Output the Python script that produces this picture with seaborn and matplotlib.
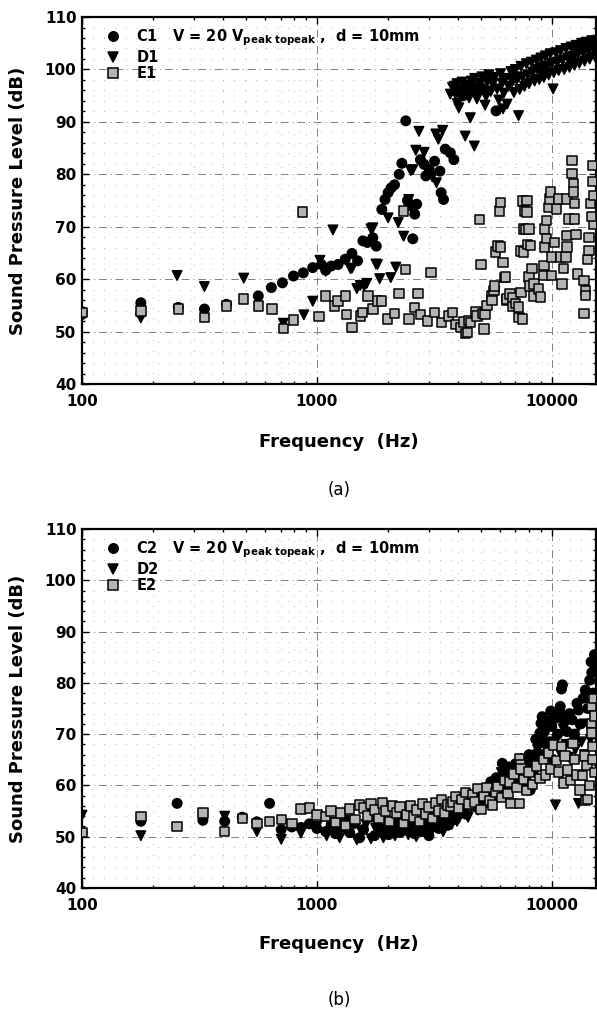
import pandas as pd
import seaborn as sns
import matplotlib.pyplot as plt
import matplotlib.ticker as mticker

# ---- panel (a) data ----
c1_freq = [100, 100, 178, 178, 257, 332, 412, 563, 640, 713, 795, 875, 960, 1045, 1090, 1150,
           1230, 1320, 1410, 1490, 1570, 1640, 1730, 1790, 1890, 1950, 2010, 2070, 2140, 2240,
           2300, 2390, 2430, 2470, 2560, 2610, 2660, 2760, 2860, 2910, 3010, 3170, 3340, 3380,
           3460, 3520, 3700, 3830, 5790, 4200, 5000, 7000, 9000, 12000, 13000, 14600, 15200]
c1_spl = [53.3, 53.8, 55.5, 53.5, 54.6, 54.3, 55.2, 56.8, 58.4, 59.3, 60.6, 61.2, 62.2, 62.8, 61.7, 62.5,
          62.8, 63.8, 64.9, 63.5, 67.3, 67.0, 67.9, 66.3, 73.3, 75.2, 76.5, 77.4, 78.0, 80.0,
          82.1, 90.2, 75.0, 74.0, 67.7, 72.4, 74.3, 82.8, 81.9, 79.7, 80.9, 82.5, 80.6, 76.5,
          75.2, 84.8, 84.1, 82.8, 92.1, 95.0, 96.5, 98.5, 100.5, 102.5, 103.8, 104.5, 105.6]

d1_freq = [100, 178, 254, 332, 488, 720, 880, 960, 1030, 1090, 1170, 1390, 1410, 1480, 1530, 1590,
           1630, 1700, 1730, 1785, 1810, 1850, 2010, 2063, 2168, 2220, 2340, 2460, 2509, 2560,
           2637, 2720, 2860, 3100, 3230, 3208, 3290, 3430, 3700, 3780, 3960, 4020, 4280, 4500,
           4680, 4800, 5200, 6200, 7220, 10130,
           3850, 3900, 3950, 4050, 4100, 4150, 4250, 4300, 4400, 4450, 4550, 4600, 4700, 4750,
           4850, 4950, 5050, 5150, 5250, 5300, 5400, 5500, 5600, 5700, 5850, 5950, 6050, 6150,
           6250, 6350, 6450, 6550, 6700, 6800, 6900, 7000, 7100, 7300, 7400, 7500, 7650, 7800,
           7900, 8000, 8200, 8300, 8450, 8600, 8700, 8850, 9000, 9100, 9250, 9400, 9550, 9700,
           9850, 10000, 10200, 10400, 10550, 10700, 10900, 11100, 11300, 11500, 11700, 11900,
           12100, 12300, 12500, 12700, 12900, 13100, 13400, 13600, 13800, 14000, 14300, 14500,
           14800, 15100, 15300]
d1_spl = [53.0, 52.6, 60.7, 58.6, 60.2, 51.6, 53.2, 55.8, 63.6, 61.5, 69.4, 62.0, 62.1, 58.2, 58.8, 58.7,
          59.2, 69.6, 69.8, 62.9, 62.8, 60.1, 71.7, 60.3, 62.3, 70.8, 68.2, 75.2, 80.7, 80.9,
          84.6, 88.2, 84.2, 79.5, 78.4, 87.7, 86.7, 88.4, 95.3, 96.6, 93.5, 92.7, 87.3, 90.8,
          85.4, 94.4, 93.2, 92.5, 91.2, 96.3,
          96.8, 95.2, 97.3, 96.0, 94.8, 97.6, 95.6, 97.0, 96.2, 94.6, 97.8, 95.9, 98.3, 96.5,
          95.0, 97.4, 98.6, 96.0, 94.9, 97.7, 99.0, 95.8, 97.2, 98.5, 96.3, 94.2, 99.2, 97.4,
          95.5, 98.3, 93.4, 96.8, 99.6, 97.7, 95.6, 100.0, 98.1, 96.2, 100.6, 98.6, 96.8, 101.1,
          99.0, 97.3, 101.4, 99.5, 97.8, 101.8, 100.0, 98.1, 102.2, 100.2, 98.5, 102.6, 100.7, 99.0,
          103.0, 101.2, 99.4, 103.2, 101.4, 99.8, 103.6, 101.8, 100.0, 104.0, 102.2, 100.4,
          104.3, 102.5, 100.8, 104.6, 103.0, 101.2, 105.0, 103.3, 101.6, 105.2, 103.6, 102.0,
          105.5, 104.0, 102.4]

e1_freq = [100, 178, 257, 332, 412, 488, 563, 645, 720, 795, 870, 1020, 1090, 1190, 1230, 1320,
           1340, 1410, 1530, 1560, 1650, 1730, 1810, 1880, 2000, 2140, 2240, 2340, 2390, 2470,
           2610, 2690, 2760, 2950, 3060, 3170, 3400, 3640, 3780, 3900, 4100, 4200, 4290, 4370,
           4450, 4520, 4760, 4800, 4930, 4990, 5100, 5150, 5200, 5300, 5530, 5560, 5670, 5700,
           5760, 5900, 6000, 6050, 6060, 6200, 6300, 6370, 6400, 6450, 6650, 6830, 6850, 7000,
           7220, 7240, 7400, 7400, 7500, 7550, 7600, 7600, 7650, 7750, 7840, 7840, 7880, 8000,
           8000, 8050, 8100, 8250, 8350, 8400, 8800, 8930, 9250, 9250, 9300, 9300, 9500, 9500,
           9730, 9800, 9870, 10000, 10000, 10300, 10500, 10670, 10870, 11070, 11200, 11500,
           11600, 11600, 11600, 11770, 12200, 12200, 12340, 12340, 12500, 12500, 12700, 12900,
           13700, 13700, 13900, 13900, 14200, 14400, 14400, 14600, 14900, 15000, 15100, 15100,
           14800]
e1_spl = [53.6, 53.9, 54.3, 52.7, 54.9, 56.2, 54.9, 54.3, 50.6, 52.2, 72.8, 52.9, 56.8, 54.9, 55.8, 56.8,
          53.3, 50.8, 53.0, 53.6, 56.8, 54.3, 55.8, 55.8, 52.4, 53.5, 57.3, 73.0, 61.8, 52.4,
          54.6, 57.3, 53.3, 52.0, 61.3, 53.6, 51.7, 53.0, 53.6, 51.4, 50.8, 51.8, 49.6, 49.8,
          52.1, 51.7, 53.7, 53.0, 71.4, 62.8, 53.4, 50.5, 53.3, 55.0, 56.8, 55.9, 57.8, 58.7,
          65.2, 66.3, 73.0, 74.6, 66.1, 63.2, 60.3, 60.4, 56.0, 56.2, 57.2, 54.9, 56.5, 55.4,
          54.7, 52.7, 57.4, 65.4, 52.4, 74.9, 69.6, 65.2, 73.0, 69.5, 75.0, 72.8, 66.6, 60.4,
          69.6, 58.7, 66.4, 62.0, 56.8, 59.1, 58.1, 56.6, 62.6, 60.7, 69.6, 66.1, 71.2, 67.7,
          73.7, 75.3, 76.6, 64.2, 60.7, 67.0, 73.4, 75.3, 64.2, 59.1, 62.0, 64.2,
          75.3, 68.3, 66.1, 71.5, 82.6, 80.1, 78.2, 76.6, 74.4, 71.5, 68.5, 61.0,
          59.7, 53.4, 57.8, 56.9, 63.8, 65.5, 68.0, 74.4, 81.7, 78.6, 70.5, 76.0,
          72.0]

# ---- panel (b) data ----
c2_freq = [100, 178, 254, 327, 405, 481, 555, 629, 705, 782, 855, 929, 1000, 1090,
           1150, 1200, 1260, 1320, 1380, 1450, 1520, 1580, 1650, 1700, 1760, 1820, 1880, 1950,
           2020, 2100, 2180, 2260, 2350, 2430, 2520, 2600, 2700, 2800, 2900, 3000, 3100, 3200,
           3300, 3400, 3500, 3600, 3700, 3800, 3900, 4000, 4150, 4300, 4450, 4600, 4750, 4900,
           5050, 5200, 5350, 5500, 5650, 5800, 5950, 6160, 6300, 6450, 6600, 6800, 7000, 7200,
           7400, 7600, 7800, 8000, 8100, 8250, 8400, 8550, 8660, 8800, 8900, 9000, 9100, 9300,
           9500, 9700, 9900, 10000, 10300, 10600, 10870, 10900, 11000, 11100, 11300, 11600,
           11900, 12200, 12500, 12800, 13000, 13300, 13600, 13900, 14200, 14500, 14700, 14800,
           15000, 15200, 15300, 15100]
c2_spl = [50.8, 53.0, 56.5, 53.2, 53.0, 53.8, 52.9, 56.5, 51.4, 51.9, 51.8, 52.5, 51.6, 51.0,
          52.4, 50.6, 51.8, 53.4, 50.8, 52.6, 49.8, 51.4, 55.2, 53.8, 50.2, 52.2, 51.0, 53.6,
          50.4, 52.0, 53.2, 50.8, 52.6, 51.2, 53.8, 50.6, 52.4, 51.0, 54.0, 50.2, 52.6, 54.4,
          51.6, 53.0, 55.0, 52.2, 54.6, 56.0, 53.4, 55.4, 57.0, 54.4, 56.4, 58.0, 55.8, 59.1,
          56.8, 58.6, 57.0, 60.7, 58.2, 61.5, 59.4, 64.3, 62.8, 60.6, 63.6, 61.2, 64.2, 62.0,
          65.2, 63.0, 61.0, 66.0, 59.1, 63.4, 65.0, 69.0, 66.3, 68.2, 70.2, 72.1, 73.4, 70.5,
          68.0, 72.5, 74.5, 71.5, 73.0, 70.0, 75.4, 74.0, 78.8, 79.6, 72.5, 70.5,
          74.0, 72.8, 70.0, 76.0, 74.7, 72.0, 77.0, 78.6, 75.0, 80.5, 84.1, 82.0,
          78.0, 85.5, 83.0, 76.5]

d2_freq = [100, 178, 327, 405, 555, 705, 855, 1000,
           1100, 1180, 1250, 1330, 1400, 1480, 1550, 1620, 1700, 1780, 1850, 1920, 2000, 2080,
           2150, 2250, 2350, 2450, 2550, 2650, 2750, 2850, 2950, 3050, 3150, 3250, 3350, 3450,
           3550, 3650, 3750, 3850, 3950, 4100, 4250, 4400, 4550, 4700, 4850, 5000, 5150, 5300,
           5450, 5600, 5750, 5900, 6100, 6160, 6300, 6500, 6700, 6900, 7100, 7300, 7500, 7700,
           7900, 8100, 8300, 8500, 8700, 8900, 9100, 9300, 9500, 9700, 9900, 10370, 10500, 10800,
           11200, 11500, 11800, 12200, 12600, 13000, 13400, 13800, 14200, 14600, 15000, 13000, 15200]
d2_spl = [54.2, 50.2, 53.4, 54.0, 51.0, 49.5, 50.7, 52.0,
          50.2, 52.8, 49.8, 51.2, 53.0, 49.4, 51.0, 52.4, 49.6, 51.6, 53.2, 49.8, 51.4, 52.8,
          50.2, 51.8, 53.4, 50.4, 52.2, 50.0, 53.0, 51.4, 52.6, 50.8, 54.2, 52.0, 53.2, 51.0,
          52.8, 54.0, 52.4, 55.0, 53.0, 54.4, 56.0, 53.8, 55.8, 57.4, 55.2, 57.0, 58.8, 56.6,
          58.4, 56.4, 60.0, 58.0, 62.5, 63.4, 60.4, 58.6, 62.0, 60.0, 63.4, 61.4, 59.4, 64.0,
          62.0, 60.0, 64.5, 62.4, 67.0, 64.6, 69.0, 66.0, 71.0, 68.5, 65.0, 56.2, 69.0, 66.5,
          71.0, 68.0, 65.5, 69.5, 67.0, 71.5, 68.5, 66.0, 72.0, 69.0, 74.0, 56.5, 70.0]

e2_freq = [100, 178, 254, 327, 405, 481, 555, 629, 705, 782, 855, 929, 1000, 1090,
           1150, 1200, 1260, 1320, 1380, 1450, 1520, 1580, 1640, 1700, 1760, 1840, 1900, 1960,
           2040, 2100, 2180, 2260, 2340, 2420, 2500, 2580, 2660, 2740, 2820, 2900, 3000, 3100,
           3200, 3300, 3400, 3500, 3600, 3700, 3800, 3900, 4000, 4150, 4300, 4450, 4600, 4700,
           4850, 5000, 5150, 5300, 5450, 5600, 5750, 5900, 6100, 6300, 6500, 6600, 6700, 6900,
           7100, 7300, 7300, 7350, 7400, 7600, 7800, 8000, 8300, 8600, 8900, 9200, 9400, 9700,
           9900, 10200, 10500, 10700, 11000, 11200, 11400, 11700, 12000, 12300, 12500, 12800,
           13200, 13500, 13800, 13900, 14200, 14100, 14500, 14800, 14800, 14800, 14900, 14900,
           15200, 15100, 15300]
e2_spl = [50.8, 53.9, 52.0, 54.6, 51.0, 53.6, 52.6, 53.0, 53.3, 52.6, 55.4, 55.6, 54.2, 53.9,
          55.0, 52.8, 54.6, 52.2, 55.4, 53.4, 56.2, 55.6, 54.0, 56.4, 55.2, 53.6, 56.6, 55.0,
          53.0, 56.0, 54.6, 55.8, 52.6, 54.2, 56.0, 53.8, 55.2, 53.0, 56.4, 54.4, 55.8, 53.6,
          56.6, 55.0, 57.2, 54.6, 56.2, 55.9, 56.8, 57.8, 55.6, 57.2, 58.6, 56.4, 58.2, 56.8,
          59.4, 55.3, 57.8, 59.6, 57.0, 56.2, 58.6, 59.8, 57.6, 61.0, 58.4, 60.7, 56.5, 62.2,
          59.6, 65.3, 56.5, 64.1, 63.2, 61.2, 59.0, 62.6, 60.2, 63.8, 61.4, 65.0, 62.0, 66.3,
          63.2, 67.9, 64.8, 62.6, 67.6, 60.5, 65.7, 63.0, 61.0, 68.2, 65.0, 62.0,
          59.1, 61.9, 65.7, 57.0, 57.2, 63.9, 60.0, 75.4, 72.1, 70.2, 67.6, 65.0,
          62.5, 77.0, 73.5]

y_ticks = [40, 50, 60, 70, 80, 90, 100, 110]
x_ticks = [100, 1000, 10000]
x_tick_labels = ['100', '1000', '10000']
legend_note = r'V = 20 V$_{\mathbf{peak\ topeak}}$ ,  d = 10mm'


def make_frame(series):
    rows = []
    for name, fr, sp in series:
        rows.append(pd.DataFrame({'freq': fr, 'spl': sp, 'series': name}))
    return pd.concat(rows, ignore_index=True)


df_a = make_frame([('C1', c1_freq, c1_spl), ('D1', d1_freq, d1_spl), ('E1', e1_freq, e1_spl)])
df_b = make_frame([('C2', c2_freq, c2_spl), ('D2', d2_freq, d2_spl), ('E2', e2_freq, e2_spl)])

sns.set_theme(style='ticks')
plt.rcParams['font.family'] = ['DejaVu Sans']
plt.rcParams['mathtext.fontset'] = 'dejavusans'
for key in ['text.color', 'axes.labelcolor', 'xtick.color', 'ytick.color']:
    plt.rcParams[key] = 'black'
narrow = ['Liberation Sans Narrow', 'DejaVu Sans']

fig = plt.figure(figsize=(5.97, 10.14), dpi=100)
ax_a = fig.add_axes([0.1374, 0.6213, 0.8606, 0.3619])
ax_b = fig.add_axes([0.1374, 0.1243, 0.8606, 0.3540])


def draw_panel(ax, df, names, tag, tag_y, xlab_y):
    sns.scatterplot(data=df, x='freq', y='spl', hue='series', style='series',
                    markers={names[0]: 'o', names[1]: 'v', names[2]: 's'},
                    palette={names[0]: 'black', names[1]: 'black', names[2]: '#b4b4b4'},
                    edgecolor='black', linewidth=1.1, s=46, ax=ax, zorder=3)
    ax.set_xscale('log')
    ax.set_xlim(100, 15400)
    ax.set_ylim(40, 110)
    ax.set_xticks(x_ticks)
    ax.set_xticklabels(x_tick_labels)
    ax.set_yticks(y_ticks)
    ax.yaxis.set_minor_locator(mticker.MultipleLocator(2))
    ax.xaxis.set_minor_locator(mticker.LogLocator(base=10, subs=range(2, 10)))
    ax.xaxis.set_minor_formatter(mticker.NullFormatter())
    ax.tick_params(which='both', direction='in', top=True, right=True, width=1.0, colors='black')
    ax.tick_params(which='major', length=5, labelsize=11)
    ax.tick_params(axis='x', which='major', pad=7)
    ax.tick_params(axis='y', which='major', pad=4)
    ax.tick_params(which='minor', length=2.5)
    for lbl in ax.get_xticklabels() + ax.get_yticklabels():
        lbl.set_fontfamily(narrow)
        lbl.set_fontweight('bold')
    for sp in ax.spines.values():
        sp.set_linewidth(1.6)
        sp.set_color('black')
    ax.grid(True, which='major', color='#808080', lw=0.7, ls=(0, (8, 4, 1, 4)))
    ax.grid(True, which='minor', color='#999999', lw=0.6, ls=(0, (1, 12)))
    ax.set_axisbelow(True)
    ax.set_xlabel('')
    ax.set_ylabel('')

    handles, labels = ax.get_legend_handles_labels()
    new_labels = [names[0] + '   ' + legend_note, names[1], names[2]]
    for h in handles[:3]:
        h.set_markeredgecolor('black')
    leg = ax.legend(handles[:3], new_labels, loc='upper left', bbox_to_anchor=(0.015, 0.995),
                    frameon=False, handletextpad=0.6, labelspacing=0.1, borderaxespad=0.2,
                    prop={'family': narrow, 'weight': 'bold', 'size': 10.5})
    for t in leg.get_texts():
        t.set_color('black')

    pos = ax.get_position()
    fig.text(0.03, pos.y0 + pos.height / 2, 'Sound Pressure Level (dB)', rotation=90,
             ha='center', va='center', fontsize=13, fontweight='bold', color='black')
    fig.text(pos.x0 + pos.width / 2, xlab_y, 'Frequency  (Hz)', ha='center', va='center',
             fontsize=13, fontweight='bold', color='black')
    fig.text(pos.x0 + pos.width / 2, tag_y, tag, ha='center', va='center', fontsize=12,
             color='black')


draw_panel(ax_a, df_a, ['C1', 'D1', 'E1'], '(a)', 1 - 490 / 1014, 1 - 442 / 1014)
draw_panel(ax_b, df_b, ['C2', 'D2', 'E2'], '(b)', 1 - 1000 / 1014, 1 - 944 / 1014)

fig.savefig('out.png', dpi=100)
